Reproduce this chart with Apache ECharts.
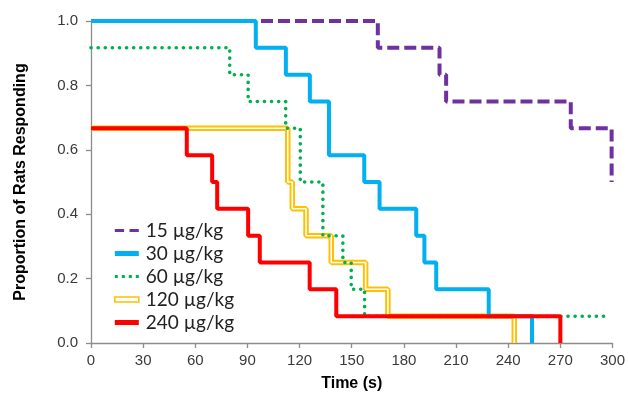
<!DOCTYPE html>
<html>
<head>
<meta charset="utf-8">
<script src="https://cdn.jsdelivr.net/npm/echarts@6/dist/echarts.min.js"></script>
<style>
  html, body { margin: 0; padding: 0; background: #fff; }
  #chart { width: 628px; height: 397px; }
</style>
</head>
<body>
<div id="chart"></div>
<script>
// Kaplan–Meier style response curves: each pair is [time (s), proportion still responding],
// drawn as right-continuous steps.
const seriesNames = ['15 µg/kg', '30 µg/kg', '60 µg/kg', '120 µg/kg', '240 µg/kg'];

const dose15 = [[0, 1.0], [165, 0.917], [200.5, 0.833], [204.3, 0.75], [276, 0.667], [299.5, 0.5]];
const dose30 = [[0, 1.0], [94.8, 0.917], [112.1, 0.833], [125.9, 0.75], [136.9, 0.583], [157.2, 0.5],
                [166, 0.417], [187.1, 0.333], [191.8, 0.25], [198.6, 0.167], [228.8, 0.083], [253.7, 0]];
const dose60 = [[0, 0.917], [79.8, 0.833], [90.4, 0.75], [112, 0.667], [120.4, 0.5], [133.4, 0.333],
                [144.9, 0.25], [149.7, 0.167], [157.4, 0.083], [298, 0.083]];
const dose120 = [[0, 0.667], [113.2, 0.5], [115.8, 0.417], [123.7, 0.333], [138.2, 0.25],
                 [158, 0.167], [170.8, 0.083], [243.5, 0]];
const dose240 = [[0, 0.667], [55.1, 0.583], [69.7, 0.5], [72.6, 0.417], [90.4, 0.333], [97.1, 0.25],
                 [125.8, 0.167], [141.1, 0.083], [270, 0]];

const xTicks = [0, 30, 60, 90, 120, 150, 180, 210, 240, 270, 300];
const yTicks = [0.0, 0.2, 0.4, 0.6, 0.8, 1.0];

const colors = {
  purple: '#7030A0',
  blue: '#00B0F0',
  green: '#00B050',
  yellow: '#FFC000',
  red: '#FF0000'
};

const chart = echarts.init(document.getElementById('chart'), null, { renderer: 'canvas' });

function stepSeries(name, data, lineStyle, z) {
  return {
    name: name,
    type: 'line',
    step: 'end',
    data: data,
    symbol: 'none',
    showSymbol: false,
    silent: true,
    animation: false,
    z: z,
    lineStyle: lineStyle,
    itemStyle: { color: lineStyle.color }
  };
}

const axisGray = '#8C8C8C';
const labelColor = '#3A3A3A';

const option = {
  backgroundColor: '#fff',
  animation: false,
  grid: { left: 91, right: 15, top: 21, bottom: 51, containLabel: false },
  xAxis: {
    type: 'value',
    min: xTicks[0],
    max: xTicks[xTicks.length - 1],
    interval: 30,
    name: 'Time (s)',
    nameLocation: 'middle',
    nameGap: 33,
    nameTextStyle: { fontFamily: 'Liberation Sans, Arial', fontWeight: 'bold', fontSize: 16, color: '#000' },
    axisLine: { show: true, lineStyle: { color: axisGray, width: 1.3 } },
    axisTick: { show: true, length: 5, lineStyle: { color: axisGray, width: 1.3 } },
    axisLabel: { margin: 10, fontFamily: 'Liberation Sans, Arial', fontSize: 15, color: labelColor },
    splitLine: { show: false }
  },
  yAxis: {
    type: 'value',
    min: yTicks[0],
    max: yTicks[yTicks.length - 1],
    interval: 0.2,
    name: 'Proportion of Rats Responding',
    nameLocation: 'middle',
    nameGap: 62,
    nameTextStyle: { fontFamily: 'Liberation Sans, Arial', fontWeight: 'bold', fontSize: 16, color: '#000' },
    axisLine: { show: true, lineStyle: { color: axisGray, width: 1.3 } },
    axisTick: { show: true, length: 5, lineStyle: { color: axisGray, width: 1.3 } },
    axisLabel: {
      margin: 13,
      fontFamily: 'Liberation Sans, Arial',
      fontSize: 15,
      color: labelColor,
      formatter: v => v.toFixed(1)
    },
    splitLine: { show: false }
  },
  legend: {
    orient: 'vertical',
    left: 114,
    top: 221,
    itemWidth: 24,
    itemHeight: 5,
    itemGap: 4,
    padding: 0,
    textStyle: { fontFamily: 'Lato, Open Sans, sans-serif', fontSize: 19, color: '#222', padding: [0, 0, 0, 2] },
    selectedMode: false,
    data: [
      { name: seriesNames[0], icon: 'path://M0,0H12V4H0Z M19,0H31V4H19Z', itemStyle: { color: colors.purple } },
      { name: seriesNames[1], icon: 'rect', itemStyle: { color: colors.blue } },
      { name: seriesNames[2], icon: 'path://M0,0H3V3H0Z M7,0H10V3H7Z M14,0H17V3H14Z M21,0H24V3H21Z', itemStyle: { color: colors.green } },
      { name: seriesNames[3], icon: 'rect', itemStyle: { color: '#fff', borderColor: colors.yellow, borderWidth: 1.6 } },
      { name: seriesNames[4], icon: 'rect', itemStyle: { color: colors.red } }
    ]
  },
  series: [
    stepSeries(seriesNames[0], dose15, { color: colors.purple, width: 4, type: [12, 5] }, 2),
    stepSeries(seriesNames[3], dose120, { color: colors.yellow, width: 5.5 }, 3),
    // thin white core gives the 120 µg/kg curve its double-line look
    Object.assign(stepSeries('120 core', dose120, { color: '#fff', width: 1.6 }, 3), { legendHoverLink: false }),
    stepSeries(seriesNames[2], dose60, { color: colors.green, width: 3.6, type: [0.1, 7], cap: 'round' }, 4),
    stepSeries(seriesNames[1], dose30, { color: colors.blue, width: 4 }, 5),
    stepSeries(seriesNames[4], dose240, { color: colors.red, width: 4 }, 6)
  ]
};

chart.setOption(option);
</script>
</body>
</html>
